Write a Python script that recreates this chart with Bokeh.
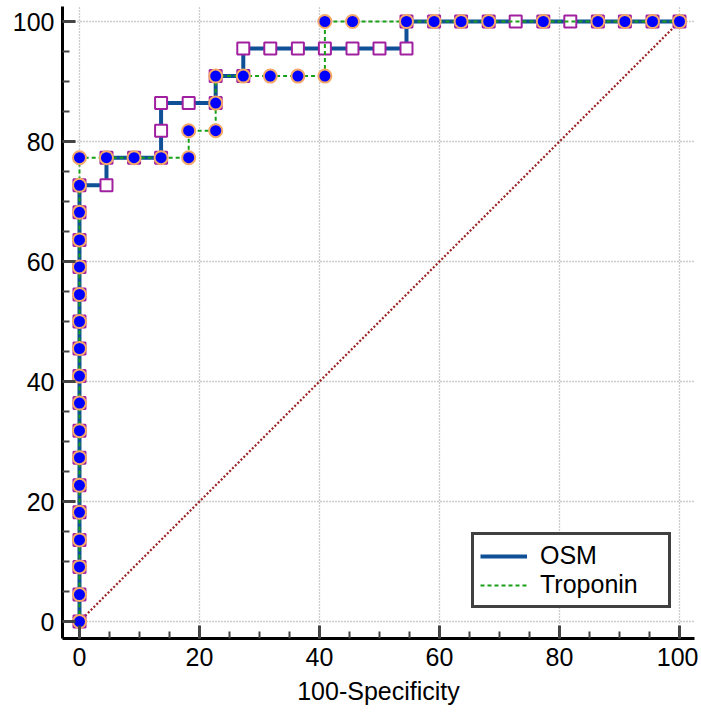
from bokeh.plotting import figure
from bokeh.models import Range1d, Legend, LegendItem, FixedTicker
from bokeh.embed import file_html
from bokeh.resources import INLINE

# ---- data ----
osm_x = [0, 0, 0, 0, 0, 0, 0, 0, 0, 0, 0, 0, 0, 0, 0, 0, 0,
         4.5, 4.5, 9.1, 13.6, 13.6, 13.6, 18.2, 22.7, 22.7, 27.3, 27.3,
         31.8, 36.4, 40.9, 45.5, 50.0, 54.5, 54.5, 59.1, 63.6, 68.2, 72.7,
         77.3, 81.8, 86.4, 90.9, 95.5, 100]
osm_y = [0, 4.5, 9.1, 13.6, 18.2, 22.7, 27.3, 31.8, 36.4, 40.9, 45.5, 50.0,
         54.5, 59.1, 63.6, 68.2, 72.7,
         72.7, 77.3, 77.3, 77.3, 81.8, 86.4, 86.4, 86.4, 90.9, 90.9, 95.5,
         95.5, 95.5, 95.5, 95.5, 95.5, 95.5, 100, 100, 100, 100, 100,
         100, 100, 100, 100, 100, 100]

trop_x = [0, 0, 0, 0, 0, 0, 0, 0, 0, 0, 0, 0, 0, 0, 0, 0, 0, 0,
          4.5, 9.1, 13.6, 18.2, 18.2, 22.7, 22.7, 22.7, 27.3, 31.8, 36.4,
          40.9, 40.9, 45.5, 54.5, 59.1, 63.6, 68.2, 77.3, 86.4, 90.9, 95.5, 100]
trop_y = [0, 4.5, 9.1, 13.6, 18.2, 22.7, 27.3, 31.8, 36.4, 40.9, 45.5, 50.0,
          54.5, 59.1, 63.6, 68.2, 72.7, 77.3,
          77.3, 77.3, 77.3, 77.3, 81.8, 81.8, 86.4, 90.9, 90.9, 90.9, 90.9,
          90.9, 100, 100, 100, 100, 100, 100, 100, 100, 100, 100, 100]

diag_x = [0, 100]
diag_y = [0, 100]

ticks = [0, 20, 40, 60, 80, 100]
series_names = ["OSM", "Troponin"]
x_title = "100-Specificity"

FONT = "Liberation Sans"
FS = "25px"

p = figure(width=698, height=708, output_backend="svg", toolbar_location=None,
           x_range=Range1d(-2.83, 102.5), y_range=Range1d(-2.83, 102.5),
           min_border_left=62, min_border_right=4, min_border_top=6,
           min_border_bottom=70)
p.outline_line_color = None
p.background_fill_color = "white"
p.border_fill_color = "white"

for ax in (p.xaxis[0], p.yaxis[0]):
    ax.ticker = FixedTicker(ticks=ticks,
                            minor_ticks=[v for v in range(0, 101, 5)])
    ax.axis_line_color = "black"
    ax.axis_line_width = 3
    ax.major_tick_in = 13
    ax.major_tick_out = 0
    ax.major_tick_line_width = 3
    ax.major_tick_line_color = "#444444"
    ax.minor_tick_in = 7
    ax.minor_tick_out = 0
    ax.minor_tick_line_width = 2
    ax.minor_tick_line_color = "#444444"
    ax.major_label_text_font = FONT
    ax.major_label_text_font_size = FS
    ax.major_label_text_color = "black"

p.xaxis.major_label_standoff = 9
p.yaxis.major_label_standoff = 8
p.xaxis.axis_label = x_title
p.xaxis.axis_label_text_font = FONT
p.xaxis.axis_label_text_font_size = FS
p.xaxis.axis_label_text_font_style = "normal"
p.xaxis.axis_label_text_color = "black"
p.xaxis.axis_label_standoff = 8

for g in (p.xgrid[0], p.ygrid[0]):
    g.ticker = FixedTicker(ticks=ticks)
    g.grid_line_color = "#999999"
    g.grid_line_width = 1.3
    g.grid_line_dash = "1 2"

# diagonal reference line
p.line(diag_x, diag_y, line_color="#992222", line_width=2.2, line_dash="2 2")

# OSM
osm_line = p.line(osm_x, osm_y, line_color="#0F5096", line_width=4)
p.scatter(osm_x, osm_y, marker="square", size=12, fill_color="white",
          line_color="#A020A0", line_width=2)

# Troponin
trop_line = p.line(trop_x, trop_y, line_color="#18A018", line_width=2,
                   line_dash="4 3")
p.scatter(trop_x, trop_y, marker="circle", size=13, fill_color="#0000FF",
          line_color="#F5A868", line_width=2)

legend = Legend(items=[LegendItem(label=series_names[0], renderers=[osm_line]),
                       LegendItem(label=series_names[1], renderers=[trop_line])],
                location=(409, 30))
legend.label_text_font = FONT
legend.label_text_font_size = FS
legend.label_text_color = "black"
legend.glyph_width = 47
legend.glyph_height = 22
legend.label_standoff = 13
legend.label_width = 122
legend.padding = 6
legend.spacing = 0
legend.margin = 0
legend.border_line_color = "#404040"
legend.border_line_alpha = 1
legend.border_line_width = 3
legend.background_fill_color = "white"
legend.background_fill_alpha = 1
p.add_layout(legend, "center")

open("out.html", "w").write(file_html(p, INLINE))
